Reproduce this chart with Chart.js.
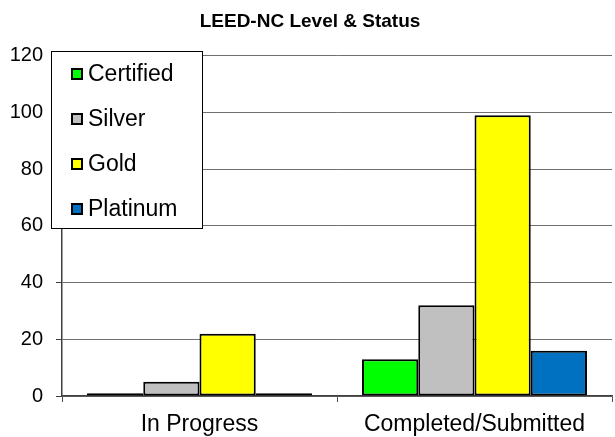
<!DOCTYPE html>
<html>
<head>
<meta charset="utf-8">
<script src="https://cdn.jsdelivr.net/npm/chart.js@4/dist/chart.umd.min.js"></script>
<style>
  html, body { margin: 0; padding: 0; background: #fff; }
  #wrap { width: 615px; height: 437px; }
</style>
</head>
<body>
<div id="wrap"><canvas id="leedChart"></canvas></div>
<script>
const categories = ['In Progress', 'Completed/Submitted'];
const levels = ['Certified', 'Silver', 'Gold', 'Platinum'];
const certifiedValues = [1, 13];
const silverValues = [5, 32];
const goldValues = [22, 99];
const platinumValues = [1, 16];
const levelColors = ['#00ff00', '#c0c0c0', '#ffff00', '#0070c0'];

const fontFamily = 'Arial, "Liberation Sans", sans-serif';

// legend drawn as a bordered box inside the plot, like the original
const boxLegend = {
    id: 'boxLegend',
    afterDraw(chart) {
        const ctx = chart.ctx;
        const left = 51, top = 51, w = 151, h = 177;
        ctx.save();
        ctx.fillStyle = '#fff';
        ctx.fillRect(left, top, w, h);
        ctx.strokeStyle = '#000';
        ctx.lineWidth = 1;
        ctx.strokeRect(left + 0.5, top + 0.5, w, h);
        ctx.font = '23px ' + fontFamily;
        ctx.textBaseline = 'middle';
        chart.data.datasets.forEach((ds, i) => {
            const y = top + 23 + i * 45;
            ctx.fillStyle = ds.backgroundColor;
            ctx.fillRect(72, y - 5, 10, 10);
            ctx.strokeStyle = '#000';
            ctx.lineWidth = 2;
            ctx.strokeRect(72, y - 5, 10, 10);
            ctx.fillStyle = '#000';
            ctx.fillText(ds.label, 88, y + 1);
        });
        ctx.restore();
    }
};

const seriesValues = [certifiedValues, silverValues, goldValues, platinumValues];

new Chart(document.getElementById('leedChart'), {
    type: 'bar',
    data: {
        labels: categories,
        datasets: levels.map((name, i) => ({
            label: name,
            data: seriesValues[i],
            backgroundColor: levelColors[i],
            borderColor: '#000',
            borderWidth: 2,
            borderSkipped: false,
            categoryPercentage: 0.818,
            barPercentage: 1.0
        }))
    },
    options: {
        responsive: true,
        maintainAspectRatio: false,
        animation: false,
        layout: { padding: { left: 8, right: 3, top: 0, bottom: 0 } },
        plugins: {
            legend: { display: false },
            tooltip: { enabled: false },
            title: {
                display: true,
                text: 'LEED-NC Level & Status',
                color: '#000',
                font: { family: fontFamily, size: 19, weight: 'bold' },
                padding: { top: 10, bottom: 23 }
            }
        },
        scales: {
            x: {
                grid: { display: true, drawOnChartArea: false, drawTicks: true, tickLength: 6, color: '#505050', offset: true },
                border: { display: true, color: '#404040', width: 1.5 },
                ticks: { color: '#000', font: { family: fontFamily, size: 23 }, padding: 9 },
                afterFit(scale) { scale.height = 41; }
            },
            y: {
                min: 0,
                max: 120,
                ticks: { stepSize: 20, color: '#000', font: { family: fontFamily, size: 20 }, padding: 13 },
                grid: { color: '#707070', lineWidth: 1, tickLength: 6, tickColor: '#404040' },
                border: { display: true, color: '#404040', width: 1.5 },
                afterFit(scale) { scale.width = 54; }
            }
        }
    },
    plugins: [boxLegend]
});
</script>
</body>
</html>
